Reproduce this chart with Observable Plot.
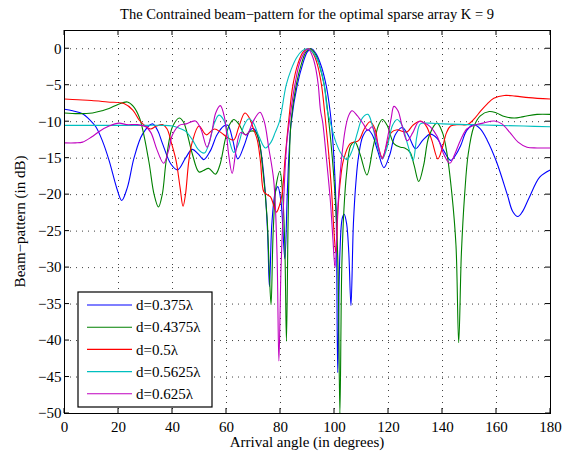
<!DOCTYPE html>
<html><head><meta charset="utf-8">
<script src="https://cdn.jsdelivr.net/npm/d3@7"></script>
<script src="https://cdn.jsdelivr.net/npm/@observablehq/plot@0.6"></script>
<style>body{margin:0;background:#fff}</style>
</head><body><div id="chart"></div>
<script>
const titleText = "The Contrained beam\u2212pattern for the optimal sparse array K = 9";
const xLabel = "Arrival angle (in degrees)";
const yLabel = "Beam\u2212pattern (in dB)";
const xTicks = [0, 20, 40, 60, 80, 100, 120, 140, 160, 180];
const yTicks = [-50, -45, -40, -35, -30, -25, -20, -15, -10, -5, 0];
const seriesNames = ["d=0.375\u03bb", "d=0.4375\u03bb", "d=0.5\u03bb", "d=0.5625\u03bb", "d=0.625\u03bb"];
const seriesColors = ["#0000ff", "#008000", "#ff0000", "#00bfbf", "#bf00bf"];

const angA = [0,3,6.7,9,11.6,14,16.5,18.5,19.6,21.2,23.3,25.8,28.9,32.6,34.5,36.3,39.4,41.9,44.8,47.3,49.5,51.6,54,56.5,59,60.5,62.3,64.2,66.5,68.5,69.8,71,72.5,74.1,75.2,75.9,76.8,78,79,80.2,81.6,82.5,83.2,84,86.2,88.3,90,91.5,93.2,95.2,96.9,98,98.8,99.8,100.6,101.2,102,102.9,103.6,104.5,105.3,106.1,107,108,108.9,110.5,112.4,114,116,118.3,120.5,122.5,125.1,127.5,130,132.8,135.5,138,140.5,143,145,146.7,149,151.6,154,156.5,160,164,166,167.9,169.5,172,176,180];
const dbA  = [-8.3,-8.5,-8.9,-9.6,-10.7,-12.6,-15.3,-18,-19.4,-20.8,-19,-14.9,-11.7,-10.3,-11.2,-13,-15.8,-16.6,-15,-13.8,-14.4,-15.2,-14,-11.8,-10.6,-10.5,-12.5,-15.1,-13.3,-11.3,-10.9,-11.4,-13.5,-18.5,-25,-32.6,-24,-19.8,-18.9,-21,-28.8,-20,-14,-10,-5,-2,-0.4,0,-0.7,-2.5,-5,-7.5,-10,-15,-22,-44.4,-28,-23.2,-22.7,-24,-28,-35.2,-24,-18,-14.8,-12,-11.1,-11.8,-14,-16.3,-14.5,-11.8,-10.8,-12,-13.7,-12.5,-11.7,-12.3,-14,-15.3,-14.5,-13.3,-11.2,-10.4,-11,-12.5,-15.5,-20,-22.3,-23,-22.4,-20.5,-17.6,-16.6];

const angB = [0,5,10.4,14,16.5,20,23.3,25.5,27.7,29.5,31.4,33.2,34.8,36.2,37.5,38.8,40,42.5,44,45,47.4,49.8,51.5,53.4,55.9,57.5,59.5,61,62.7,64.5,67,68.8,70.7,72,73.2,75,75.8,76.5,77.3,78.5,79.8,80.8,81.6,82.2,82.8,83.3,83.9,85.8,87.8,89.5,91.1,93,94.6,96.2,97.9,99.2,100.5,101.3,102,102.7,103.5,104.5,106,107.6,109.5,112,114.3,116.3,117.7,119.5,122,124.5,126,128,129.5,131.2,133,135,138,140,141.5,143.5,145,146,147,148.2,149.5,151.6,154,157.3,160,163,166.6,170,175,180];
const dbB  = [-8.8,-8.9,-8.8,-8.5,-8.2,-7.6,-7.3,-7.9,-9.4,-12,-15.8,-20,-21.7,-20,-15.8,-12.5,-10.7,-9.5,-10,-11,-14.5,-16.9,-16.7,-16.4,-17.2,-16,-12.5,-10.5,-9.7,-10.3,-11.8,-11.3,-11.4,-12.5,-15.7,-23,-30,-35.1,-25,-18.5,-16.8,-20,-27,-40.1,-24,-15,-10,-5,-2,-0.4,0,-0.8,-2.5,-5,-10,-15,-22,-30,-50,-30,-22,-17,-13.3,-12.8,-14.5,-17.3,-13.5,-10.5,-9.7,-10.5,-13,-13.5,-13.6,-14.2,-16,-18.2,-16,-12,-10.2,-11.5,-14,-20,-27,-40.3,-28,-20,-14.5,-10.7,-9.2,-8.6,-8.8,-9.3,-9.5,-9.3,-9,-9];

const angC = [0,5,10,16,22,25.3,27.7,30,31.9,34,36.3,38,39.5,41.3,42.8,43.9,44.8,46,47.3,49.8,52.5,55.5,58,60.5,62.7,64.5,66.8,68.5,70,71.4,72.6,73.8,75,76.3,77.5,78.5,79.6,80.6,81.7,83,84.6,86.5,88.5,90.5,92.2,93.7,95.2,96.7,98,99,99.8,100.5,101.3,102.2,103.3,105.8,108.9,111,113.2,115,116.3,117.7,119.5,121,123.2,125,126.9,129,131.9,134,136,138.3,140,141.5,143,146,149.2,152,154,156.5,159,162.9,167,172,180];
const dbC  = [-6.9,-7,-7.1,-7.3,-7.5,-8.4,-9.8,-10.6,-11,-10.6,-10.4,-11,-12.8,-15.3,-19,-21.6,-20,-15.5,-12.8,-10.6,-11.8,-11,-11.5,-12.2,-12.5,-10.8,-8.8,-9.5,-11,-12.5,-15.5,-19.6,-20,-20.3,-21.5,-22.4,-21.5,-19.9,-15,-10,-5,-2,-0.4,0,-0.7,-2.2,-5,-10,-15,-20,-25,-28,-22,-18,-15.3,-13,-12.6,-11,-10,-11,-13.5,-14.9,-13,-11.5,-11.1,-11.3,-11.4,-10.5,-9.9,-10.6,-12.5,-15.1,-13.5,-11.5,-10.6,-10.4,-10.4,-9.5,-8.6,-7.6,-6.8,-6.4,-6.5,-6.7,-6.9];

const angD = [0,10,20,30,36,40,42.5,44.8,47.4,49.5,51.8,53.5,55.5,57.2,59,61,62.7,64.5,66.5,68.3,70,72,74.4,76.5,78,79.6,82.1,84,86,88,89.9,92,94,96.2,97.3,98.4,100.5,102.5,104.6,106.5,108.5,110.3,112.4,114,116,117.7,119.5,121.5,123.2,125,127,129.1,130.5,131.8,135,140,150,160,170,180];
const dbD  = [-10.5,-10.5,-10.5,-10.5,-10.5,-10.6,-10.9,-11.3,-12.5,-13.8,-14.3,-13,-10.2,-9.1,-9.8,-12.5,-14.2,-13,-10.5,-9.6,-10.2,-12,-13.6,-12.8,-11.5,-10,-5,-2.8,-1.2,-0.3,0,-0.5,-1.8,-5,-8.4,-10,-12.8,-14.4,-15.2,-14,-11.5,-9.5,-9,-10.5,-13.5,-15.1,-13.5,-10.5,-9.7,-10.5,-13,-15.3,-12,-10.3,-10.2,-10.3,-10.4,-10.5,-10.6,-10.7];

const angE = [0,4,6.7,10,13,16.5,20.2,23,27,30.1,32,34.2,36.7,38.5,40,42.5,45,48.5,50.5,52.8,54.5,56,57.7,59.3,60.8,62.1,63.5,65.2,67.5,69.8,72.4,74,75.6,77.5,78.7,79.4,80.2,81.5,82.3,83.3,85.3,87.5,90.2,92,93.2,94,94.8,95.6,97,98.5,99.4,100.2,101.2,102.5,104,105.2,106.5,108.5,111,112.3,113.9,115.5,117.7,119.5,121,122,123.5,125,126.9,129,131.2,133.5,135.5,138,140.5,142.7,144.5,146.7,149,151.6,155,159.2,162,165,168,171.3,175,180];
const dbE  = [-12.9,-12.9,-12.8,-12.1,-11.3,-10.6,-10.2,-10.4,-10.4,-10.7,-11.5,-13.8,-15.7,-14,-11.8,-10.5,-10.3,-9.9,-11,-13.5,-11.5,-8.8,-7.8,-9.5,-14.5,-17.1,-14,-11.5,-11.8,-10,-8.7,-10,-13.5,-18.1,-28,-42.8,-30,-18,-13,-10,-5,-1.5,0,-1.2,-3,-5,-8.4,-10,-15,-21,-26,-30,-22,-15.5,-11,-9.2,-8.5,-9.2,-10.5,-11.2,-10.7,-12.3,-15.1,-12.5,-9.5,-7.9,-8.5,-10.5,-12.6,-11.5,-10,-10.2,-10.7,-12,-14.5,-15.7,-14.5,-12.5,-11,-10.5,-10.2,-9.9,-10.3,-11.5,-12.8,-13.5,-13.6,-13.6];

const angles = [angA, angB, angC, angD, angE];
const values = [dbA, dbB, dbC, dbD, dbE];
const data = [];
seriesNames.forEach((name, i) => {
  angles[i].forEach((a, j) => data.push({series: name, angle: a, db: values[i][j]}));
});

const W = 568, H = 454;
const chart = Plot.plot({
  width: W, height: H,
  marginLeft: 64, marginRight: 18, marginTop: 30, marginBottom: 41,
  style: {fontFamily: "'Liberation Serif', serif", fontSize: "15px", background: "#fff", color: "#000"},
  x: {domain: [0, 180]},
  y: {domain: [-50, 2.5]},
  color: {domain: seriesNames, range: seriesColors},
  marks: [
    Plot.gridX(xTicks, {stroke: "#000", strokeOpacity: 0.75, strokeDasharray: "1,5"}),
    Plot.gridY(yTicks, {stroke: "#000", strokeOpacity: 0.75, strokeDasharray: "1,5"}),
    Plot.line(data, {x: "angle", y: "db", z: "series", stroke: "series", strokeWidth: 1.1, curve: "catmull-rom", clip: true}),
    Plot.axisX(xTicks, {tickSize: 0, tickPadding: 8, label: null, fontSize: 15}),
    Plot.axisY(yTicks, {tickSize: 0, tickPadding: 3, label: null, fontSize: 15}),
    Plot.frame({stroke: "#000", strokeWidth: 1})
  ]
});

const svg = d3.select(chart);
const sx = chart.scale("x"), sy = chart.scale("y");
const x0 = sx.apply(0), x1 = sx.apply(180), yb = sy.apply(-50), yt = 30;
const tk = 5;
const tg = svg.append("g").attr("stroke", "#000").attr("stroke-width", 1);
xTicks.forEach(v => {
  const x = sx.apply(v);
  tg.append("line").attr("x1", x).attr("x2", x).attr("y1", yb).attr("y2", yb - tk);
  tg.append("line").attr("x1", x).attr("x2", x).attr("y1", yt).attr("y2", yt + tk);
});
yTicks.forEach(v => {
  const y = sy.apply(v);
  tg.append("line").attr("x1", x0).attr("x2", x0 + tk).attr("y1", y).attr("y2", y);
  tg.append("line").attr("x1", x1).attr("x2", x1 - tk).attr("y1", y).attr("y2", y);
});

svg.append("text").attr("x", (x0 + x1) / 2).attr("y", 19).attr("text-anchor", "middle")
  .attr("font-size", 14.5).text(titleText);
svg.append("text").attr("x", (x0 + x1) / 2).attr("y", 447).attr("text-anchor", "middle")
  .attr("font-size", 15).text(xLabel);
svg.append("text").attr("transform", `translate(25,${(yt + yb) / 2}) rotate(-90)`).attr("text-anchor", "middle")
  .attr("font-size", 15).text(yLabel);

// legend
const lg = svg.append("g");
lg.append("rect").attr("x", 78).attr("y", 292).attr("width", 134).attr("height", 115)
  .attr("fill", "#fff").attr("stroke", "#000").attr("stroke-width", 1.2);
seriesNames.forEach((name, i) => {
  const y = 305 + i * 22.2;
  lg.append("line").attr("x1", 87).attr("x2", 132).attr("y1", y).attr("y2", y)
    .attr("stroke", seriesColors[i]).attr("stroke-width", 1.1);
  lg.append("text").attr("x", 136).attr("y", y).attr("dy", "0.35em").attr("text-anchor", "start")
    .attr("font-size", 15).text(name);
});

document.getElementById("chart").appendChild(chart);
</script>
</body></html>
